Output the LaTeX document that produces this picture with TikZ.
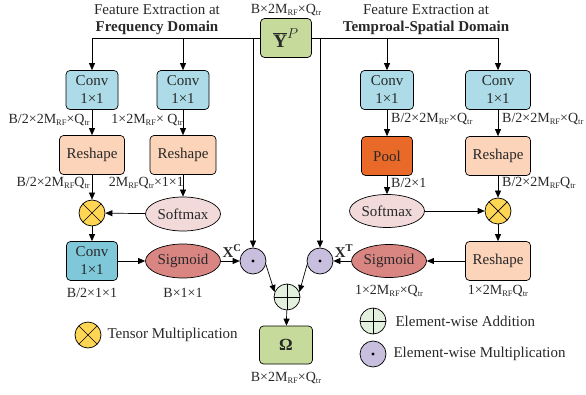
\documentclass[tikz,border=0pt]{standalone}
\usepackage{fontspec}
\setmainfont{Liberation Serif}
\usetikzlibrary{arrows.meta,shapes.geometric}
\definecolor{convA}{RGB}{173,220,232}
\definecolor{convB}{RGB}{127,200,218}
\definecolor{reshc}{RGB}{251,212,185}
\definecolor{poolc}{RGB}{232,105,40}
\definecolor{softc}{RGB}{242,218,218}
\definecolor{sigc}{RGB}{217,134,130}
\definecolor{tensc}{RGB}{255,213,84}
\definecolor{dotc}{RGB}{200,190,222}
\definecolor{addc}{RGB}{228,240,222}
\definecolor{greenc}{RGB}{197,218,155}
\definecolor{txt}{RGB}{40,40,40}
\newcommand\dsb[1]{\raisebox{-0.3ex}{\fontsize{8.5}{9}\selectfont #1}}
\newcommand\MRF{M\dsb{RF}}
\newcommand\Qtr{Q\dsb{tr}}
\begin{document}
\begin{tikzpicture}[x=1pt,y=-1pt,
  font=\fontsize{15}{18}\selectfont, text=txt,
  box/.style={draw, rounded corners=4pt, line width=0.7pt, align=center, inner sep=0pt, minimum height=39pt},
  ell/.style={draw, ellipse, line width=0.7pt, inner sep=0pt, minimum width=75pt, minimum height=34pt},
  arr/.style={-{Triangle[length=7pt,width=6pt]}, line width=0.7pt},
  ln/.style={line width=0.7pt},
  dim/.style={font=\fontsize{14}{16}\selectfont, inner sep=1pt},
  opc/.style={circle, draw, minimum size=26pt, inner sep=0pt, line width=0.7pt},
  tensop/.style={opc, fill=tensc, path picture={\draw[line width=0.7pt] (path picture bounding box.south west) -- (path picture bounding box.north east) (path picture bounding box.north west) -- (path picture bounding box.south east);}},
  addop/.style={opc, fill=addc, path picture={\draw[line width=0.7pt] (path picture bounding box.south) -- (path picture bounding box.north) (path picture bounding box.west) -- (path picture bounding box.east);}},
  dotop/.style={opc, fill=dotc, path picture={\fill[black] (path picture bounding box.center) circle (1.7pt);}}
]
\useasboundingbox (0,0) rectangle (586,395);

% titles
\node (tl1) at (157,10) {Feature Extraction at};
\node (tl2) at (157,28) {\textbf{Frequency Domain}};
\node (tr1) at (426,10) {Feature Extraction at};
\node (tr2) at (426,28) {\textbf{Temproal-Spatial Domain}};

% input
\node[box, fill=greenc, minimum width=51pt] (ybar) at (286,38) {\fontsize{19}{20}\selectfont$\overline{\mathbf{Y}}^{P}$};
\node[dim] (ydim) at (286,10) {B×2\MRF×\Qtr};

% frequency branch
\node[box, fill=convA, minimum width=52pt] (c1) at (92,90) {Conv\\1×1};
\node[box, fill=convA, minimum width=52pt] (c2) at (183,90) {Conv\\1×1};
\node[box, fill=reshc, minimum width=65pt] (r1) at (92,155) {Reshape};
\node[box, fill=reshc, minimum width=66pt] (r2) at (183,155) {Reshape};
\node[tensop] (t1) at (92,213) {};
\node[ell, fill=softc] (sm1) at (183,214) {Softmax};
\node[box, fill=convB, minimum width=51pt] (c5) at (92,261) {Conv\\1×1};
\node[ell, fill=sigc] (sg1) at (183,261) {Sigmoid};
\node[dotop] (m1) at (253,261) {};

% temporal-spatial branch
\node[box, fill=convA, minimum width=53pt] (c3) at (387,90) {Conv\\1×1};
\node[box, fill=convA, minimum width=65pt] (c4) at (498,90) {Conv\\1×1};
\node[box, fill=poolc, minimum width=51pt] (pool) at (387,156) {Pool};
\node[box, fill=reshc, minimum width=65pt] (r3) at (498,156) {Reshape};
\node[ell, fill=softc, minimum height=33pt] (sm2) at (387,211) {Softmax};
\node[tensop] (t2) at (498,211) {};
\node[box, fill=reshc, minimum width=65pt] (r4) at (498,261) {Reshape};
\node[ell, fill=sigc, minimum height=33pt] (sg2) at (389,261) {Sigmoid};
\node[dotop] (m2) at (320,261) {};

% fusion
\node[addop] (add) at (287,297) {};
\node[box, fill=greenc, minimum width=53pt, minimum height=38pt] (om) at (286,345) {\fontsize{17}{18}\selectfont\textbf{Ω}};
\node[dim] (omdim) at (286,378) {B×2\MRF×\Qtr};

% connectors
\draw[arr] (ybar.west) -| (c1.north);
\draw[arr] (c2.north |- ybar.west) -- (c2.north);
\draw[arr] (m1.north |- ybar.west) -- (m1.north);
\draw[arr] (ybar.east) -| (c4.north);
\draw[arr] (c3.north |- ybar.east) -- (c3.north);
\draw[arr] (m2.north |- ybar.east) -- (m2.north);

\draw[arr] (c1) -- (r1);
\draw[arr] (c2) -- (r2);
\draw[arr] (r1) -- (t1);
\draw[arr] (r2) -- (sm1);
\draw[arr] (sm1) -- (t1);
\draw[arr] (t1) -- (c5);
\draw[arr] (c5) -- (sg1);
\draw[arr] (sg1) -- (m1);

\draw[arr] (c3) -- (pool);
\draw[arr] (c4) -- (r3);
\draw[arr] (pool) -- (sm2);
\draw[arr] (r3) -- (t2);
\draw[arr] (sm2) -- (t2);
\draw[arr] (t2) -- (r4);
\draw[arr] (r4) -- (sg2);
\draw[arr] (sg2) -- (m2);

\draw[arr] (m1.-15) -- (add.158);
\draw[arr] (m2.195) -- (add.22);
\draw[arr] (add) -- (om);

% dimension labels
\node[dim, anchor=east] (d1) at (91,120) {B/2×2\MRF×\Qtr};
\node[dim, anchor=east] (d2) at (184,120) {1×2\MRF× \Qtr};
\node[dim, anchor=east] (d3) at (91,183) {B/2×2\MRF\Qtr};
\node[dim, anchor=east] (d4) at (185,183) {2\MRF\Qtr×1×1};
\node[dim, anchor=west] (d5) at (390,119) {B/2×2\MRF×\Qtr};
\node[dim, anchor=west] (d6) at (501,119) {B/2×2\MRF×\Qtr};
\node[dim, anchor=west] (d7) at (390,183) {B/2×1};
\node[dim, anchor=west] (d8) at (501,183) {B/2×2\MRF\Qtr};
\node[dim] (d9) at (92,293) {B/2×1×1};
\node[dim] (d10) at (183,293) {B×1×1};
\node[dim] (d11) at (389,291) {1×2\MRF×\Qtr};
\node[dim] (d12) at (498,291) {1×2\MRF\Qtr};
\node (xc) at (232,251) {\textbf{X}\textsuperscript{\textbf{C}}};
\node (xt) at (344,251) {\textbf{X}\textsuperscript{\textbf{T}}};

% legend
\node[tensop] (lt) at (88,335) {};
\node[anchor=west] (ltt) at (104,335) {Tensor Multiplication};
\node[addop] (la) at (373,321) {};
\node[anchor=west] (lat) at (392,321) {Element-wise Addition};
\node[dotop] (lm) at (373,354) {};
\node[anchor=west] (lmt) at (390,354) {Element-wise Multiplication};
\end{tikzpicture}
\end{document}
